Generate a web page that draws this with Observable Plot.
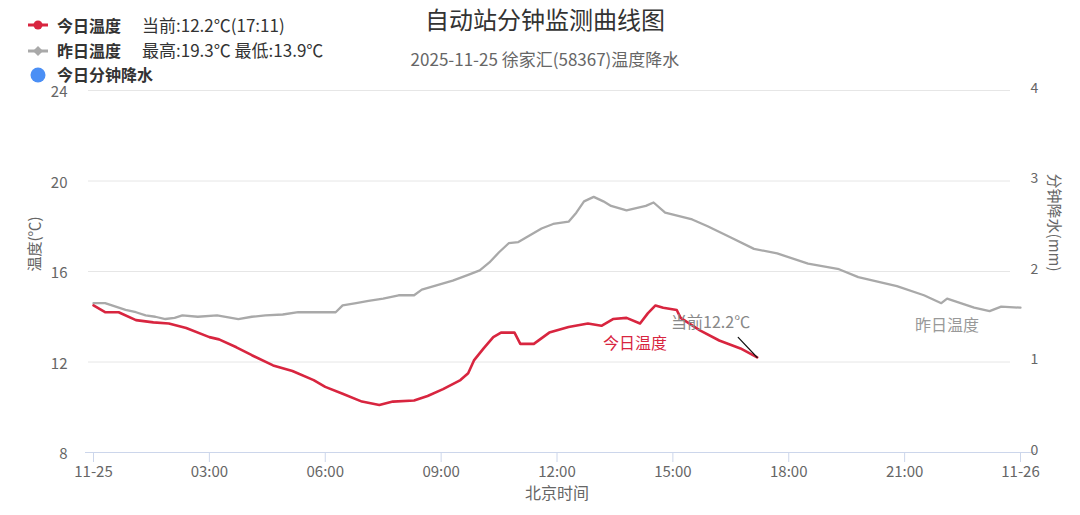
<!DOCTYPE html>
<html>
<head>
<meta charset="utf-8">
<script src="https://cdn.jsdelivr.net/npm/d3@7"></script>
<script src="https://cdn.jsdelivr.net/npm/@observablehq/plot@0.6"></script>
<style>
  html, body { margin: 0; padding: 0; background: #fff; }
  body { width: 1080px; height: 515px; position: relative; overflow: hidden;
         font-family: "Noto Sans CJK SC", "Noto Sans", sans-serif; }
  #chart { position: absolute; left: 0; top: 0; }
  .ov { position: absolute; white-space: nowrap; line-height: 1; }
  #title { left: 0; width: 1090px; text-align: center; top: 7px; font-size: 24px; color: #333; }
  #subtitle { left: 0; width: 1090px; text-align: center; top: 50px; font-size: 17px; color: #666; }
  .lg { position: absolute; left: 0; width: 420px; height: 22px; white-space: nowrap; }
  .lg svg { position: absolute; left: 0; top: 0; }
  .lg .name { position: absolute; left: 57px; top: 2px; font-size: 16px; font-weight: bold; color: #333; line-height: 16px; white-space: nowrap; }
  .lg .info { position: absolute; left: 142px; top: 2px; font-size: 17px; color: #333; line-height: 16px; white-space: nowrap; }
</style>
</head>
<body>
<div id="chart"></div>
<div id="title" class="ov"></div>
<div id="subtitle" class="ov"></div>
<div id="legend"></div>
<script>
// ---- Data ----
const titleText = "自动站分钟监测曲线图";
const subtitleText = "2025-11-25 徐家汇(58367)温度降水";

// Yesterday's temperature (hours since 00:00, ℃)
const hoursYesterday = [0.0, 0.3, 0.83, 1.1, 1.35, 1.6, 1.86, 2.1, 2.3, 2.7, 3.2, 3.75, 4.1, 4.45, 4.9, 5.3, 5.8, 6.27, 6.45, 6.8, 7.12, 7.5, 7.9, 8.3, 8.5, 8.9, 9.3, 9.7, 10.0, 10.25, 10.5, 10.75, 11.0, 11.3, 11.6, 11.9, 12.3, 12.5, 12.7, 12.95, 13.2, 13.4, 13.8, 14.3, 14.5, 14.8, 15.5, 15.9, 16.5, 17.1, 17.7, 18.5, 19.3, 19.8, 20.8, 21.5, 21.95, 22.1, 22.8, 23.2, 23.5, 24.0];
const tempYesterday  = [14.6, 14.6, 14.3, 14.2, 14.06, 14.0, 13.9, 13.95, 14.06, 14.0, 14.06, 13.9, 14.0, 14.06, 14.1, 14.2, 14.2, 14.2, 14.5, 14.6, 14.7, 14.8, 14.95, 14.95, 15.2, 15.4, 15.6, 15.85, 16.05, 16.4, 16.85, 17.25, 17.3, 17.6, 17.9, 18.1, 18.2, 18.6, 19.1, 19.3, 19.1, 18.9, 18.7, 18.9, 19.05, 18.6, 18.3, 18.0, 17.5, 17.0, 16.8, 16.35, 16.1, 15.75, 15.35, 14.95, 14.6, 14.8, 14.4, 14.25, 14.45, 14.4];

// Today's temperature (hours since 00:00, ℃), up to 17:11
const hoursToday = [0.0, 0.3, 0.65, 1.1, 1.55, 1.95, 2.4, 3.0, 3.25, 3.7, 4.1, 4.65, 5.15, 5.7, 6.0, 6.45, 6.95, 7.4, 7.75, 8.3, 8.65, 9.05, 9.5, 9.7, 9.85, 10.1, 10.35, 10.55, 10.9, 11.05, 11.4, 11.8, 12.3, 12.8, 13.15, 13.45, 13.8, 14.15, 14.35, 14.55, 14.75, 15.1, 15.2, 15.7, 16.2, 16.75, 17.183];
const tempToday  = [14.5, 14.2, 14.2, 13.85, 13.75, 13.7, 13.5, 13.1, 13.0, 12.65, 12.3, 11.85, 11.6, 11.2, 10.9, 10.6, 10.25, 10.1, 10.25, 10.3, 10.5, 10.8, 11.2, 11.5, 12.07, 12.6, 13.1, 13.3, 13.3, 12.8, 12.8, 13.3, 13.55, 13.7, 13.6, 13.9, 13.95, 13.7, 14.15, 14.5, 14.4, 14.3, 13.95, 13.4, 12.95, 12.6, 12.2];

// Today's minute precipitation (none recorded)
const precipHours = [];
const precipValues = [];

// Axis ticks
const xTicks = [0, 3, 6, 9, 12, 15, 18, 21, 24];
const xTickLabels = ["11-25", "03:00", "06:00", "09:00", "12:00", "15:00", "18:00", "21:00", "11-26"];
const yTicks = [8, 12, 16, 20, 24];
const precipTickLabels = ["0", "1", "2", "3", "4"];

const legendNames = ["今日温度", "昨日温度", "今日分钟降水"];
const legendInfo = ["当前:12.2℃(17:11)", "最高:19.3℃ 最低:13.9℃", ""];
const seriesLabels = ["今日温度", "昨日温度"];

// ---- Build ----
const red = "#d8253f", gray = "#a9a9a9", blue = "#4b8ff5";
const yesterday = hoursYesterday.map((h, i) => ({h, t: tempYesterday[i]}));
const today = hoursToday.map((h, i) => ({h, t: tempToday[i]}));
const precip = precipHours.map((h, i) => ({h, p: precipValues[i]}));
const last = today[today.length - 1];
const todayLabelAt = today.find(d => d.h === 14.15);
const yestLabelAt = yesterday.find(d => d.h === 22.1);
const font = "Noto Sans CJK SC, Noto Sans, sans-serif";

const lineShape = { draw(ctx, l) { ctx.moveTo(0, 0); ctx.lineTo(0, -l); } };

const chart = Plot.plot({
  width: 1080, height: 515,
  marginLeft: 93, marginRight: 60, marginTop: 90, marginBottom: 63,
  style: { fontFamily: font, background: "white", overflow: "visible" },
  x: { domain: [0, 24] },
  y: { domain: [8, 24] },
  marks: [
    Plot.ruleY(yTicks.slice(1), { stroke: "#e6e6e6", strokeWidth: 1, insetLeft: -5, insetRight: 10 }),
    Plot.ruleY([8], { stroke: "#ccd6eb", strokeWidth: 1, insetLeft: -8, insetRight: -15 }),
    Plot.axisX({ ticks: xTicks, tickFormat: (d, i) => xTickLabels[i], tickSize: 10, tickPadding: 4,
                 stroke: "#ccd6eb", fill: "#666", fontSize: 15, label: null }),
    Plot.axisY({ anchor: "left", ticks: yTicks, tickSize: 0, tickPadding: 26, fill: "#666", fontSize: 15, dy: 2, label: null }),
    Plot.axisY({ anchor: "right", ticks: yTicks, tickFormat: (d, i) => precipTickLabels[i], tickSize: 0, tickPadding: 10,
                 textAnchor: "start", fill: "#666", fontSize: 14, dy: -2, label: null }),
    Plot.text(["温度(℃)"], { frameAnchor: "left", dx: -58, rotate: -90, fill: "#666", fontSize: 15 }),
    Plot.text(["分钟降水(mm)"], { frameAnchor: "right", dx: 33, rotate: 90, fill: "#666", fontSize: 15 }),
    Plot.text(["北京时间"], { frameAnchor: "bottom", dy: 46, fill: "#666", fontSize: 16 }),
    Plot.rectY(precip, { x1: d => d.h, x2: d => d.h + 1/60, y1: 8, y2: d => 8 + d.p * 4, fill: blue }),
    Plot.line(yesterday, { x: "h", y: "t", stroke: gray, strokeWidth: 2.3, strokeLinejoin: "round" }),
    Plot.line(today, { x: "h", y: "t", stroke: red, strokeWidth: 2.6, strokeLinejoin: "round" }),
    Plot.vector([last], { x: "h", y: "t", rotate: -43.5, length: 27.6, anchor: "start", shape: lineShape, stroke: "#111", strokeWidth: 1.2 }),
    Plot.text([last], { x: "h", y: "t", text: d => `当前${d.t}℃`, textAnchor: "end", dx: -7, dy: -35, fill: "#888", fontSize: 16 }),
    Plot.text([todayLabelAt], { x: "h", y: "t", text: () => seriesLabels[0], dx: -5, dy: 20, fill: red, fontSize: 16 }),
    Plot.text([yestLabelAt], { x: "h", y: "t", text: () => seriesLabels[1], dx: 0, dy: 27, fill: "#999", fontSize: 16 })
  ]
});
document.getElementById("chart").appendChild(chart);

document.getElementById("title").textContent = titleText;
document.getElementById("subtitle").textContent = subtitleText;

// Legend
const legend = document.getElementById("legend");
const rowsTop = [15, 40, 64];
const symbols = [
  `<svg width="60" height="22"><line x1="28" y1="10" x2="48" y2="10" stroke="${red}" stroke-width="3"/><circle cx="38" cy="10" r="4.5" fill="${red}"/></svg>`,
  `<svg width="60" height="22"><line x1="28" y1="11" x2="48" y2="11" stroke="${gray}" stroke-width="3"/><path d="M38 6 L43 11 L38 16 L33 11 Z" fill="${gray}"/></svg>`,
  `<svg width="60" height="22"><circle cx="38" cy="11" r="7.5" fill="${blue}"/></svg>`
];
legendNames.forEach((n, i) => {
  const row = document.createElement("div");
  row.className = "lg";
  row.style.top = rowsTop[i] + "px";
  row.innerHTML = symbols[i] + `<span class="name">${n}</span>` + (legendInfo[i] ? `<span class="info">${legendInfo[i]}</span>` : "");
  legend.appendChild(row);
});
</script>
</body>
</html>
